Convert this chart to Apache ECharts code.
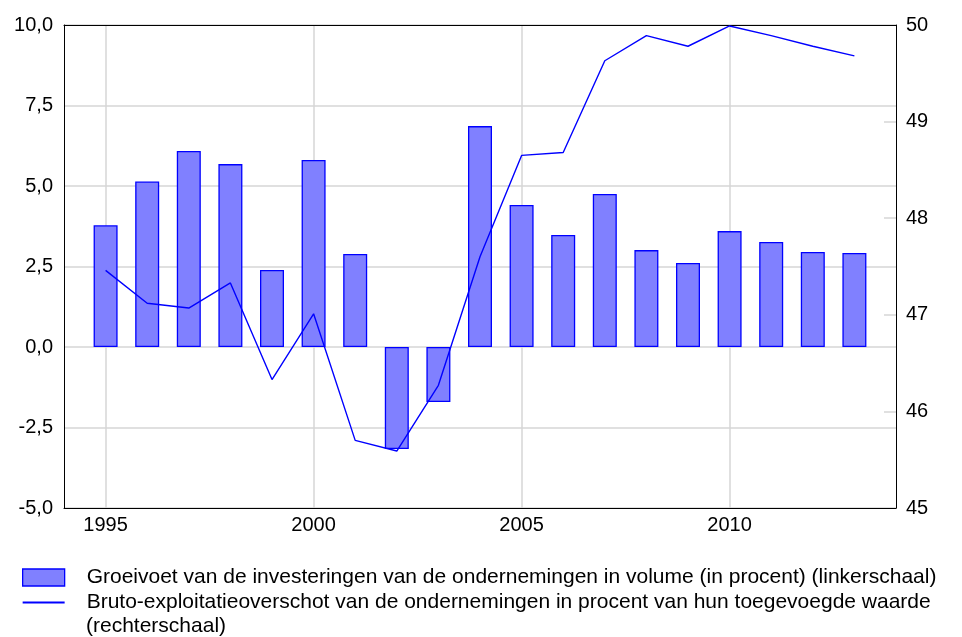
<!DOCTYPE html>
<html>
<head>
<meta charset="utf-8">
<script src="https://cdn.jsdelivr.net/npm/echarts@6/dist/echarts.min.js"></script>
<style>
  html, body { margin: 0; padding: 0; background: #fff; }
  #chart { width: 962px; height: 637px; }
</style>
</head>
<body>
<div id="chart"></div>
<script>
// jaren op de x-as
var years = ['1995', '1996', '1997', '1998', '1999', '2000', '2001', '2002', '2003', '2004',
  '2005', '2006', '2007', '2008', '2009', '2010', '2011', '2012', '2013']
// groeivoet investeringen (linkerschaal, %)
var investmentGrowth = [3.78, 5.14, 6.09, 5.68, 2.39, 5.81, 2.89, -3.17, -1.71, 6.86,
  4.41, 3.48, 4.75, 3.01, 2.61, 3.60, 3.26, 2.95, 2.92]
// bruto-exploitatieoverschot (rechterschaal, %)
var operatingSurplus = [47.46, 47.12, 47.07, 47.33, 46.33, 47.01, 45.70, 45.59, 46.27, 47.60,
  48.65, 48.68, 49.63, 49.89, 49.78, 49.99, 49.89, 49.78, 49.68]
var leftTicks = ['-5,0', '-2,5', '0,0', '2,5', '5,0', '7,5', '10,0']
var rightInnerTicks = [46, 47, 48, 49]

var barName = 'Groeivoet van de investeringen van de ondernemingen in volume (in procent) (linkerschaal)'
var lineName = 'Bruto-exploitatieoverschot van de ondernemingen in procent van hun toegevoegde waarde'

// een lege jaar aan elke kant, zodat de as van 1994 tot 2014 loopt
var axisYears = ['1994'].concat(years, ['2014'])
var barData = [null].concat(investmentGrowth, [null])
var lineData = [null].concat(operatingSurplus, [null])

var font = 'Liberation Sans'
function showYear (i, v) { return +v % 5 === 0 && +v < 2014 }

var chart = echarts.init(document.getElementById('chart'))
chart.setOption({
  animation: false,
  textStyle: { fontFamily: font, color: '#000' },
  grid: {
    left: 64, right: 66, top: 25, bottom: 129
  },
  legend: {
    orient: 'vertical',
    left: 22,
    top: 565,
    padding: 0,
    itemWidth: 42,
    itemHeight: 17,
    itemGap: 0,
    textStyle: { fontFamily: font, fontSize: 21, lineHeight: 25, color: '#000', padding: [0, 0, 0, 17] },
    data: [
      { name: barName, icon: 'rect', itemStyle: { color: '#8080ff', borderColor: '#0000ff', borderWidth: 1.3 } },
      { name: lineName, icon: 'path://M0,0 L42,0 L42,2 L0,2 Z', itemStyle: { color: '#0000ff', borderWidth: 0 } }
    ]
  },
  graphic: [{
    type: 'text',
    left: 86,
    top: 616,
    style: { text: '(rechterschaal)', fontFamily: font, fontSize: 21, fill: '#000' }
  }],
  xAxis: [{
    type: 'category',
    data: axisYears,
    boundaryGap: false,
    axisLine: { onZero: false, lineStyle: { color: '#000', width: 1 } },
    axisTick: { show: false },
    axisLabel: { fontSize: 20, color: '#000', margin: 7, interval: showYear },
    splitLine: {
      show: true,
      interval: showYear,
      lineStyle: { color: '#d6d6d6', width: 1.5 }
    }
  }, {
    // alleen de bovenrand van het kader
    type: 'category',
    position: 'top',
    data: axisYears,
    boundaryGap: false,
    axisLine: { onZero: false, lineStyle: { color: '#000', width: 1 } },
    axisTick: { show: false },
    axisLabel: { show: false },
    splitLine: { show: false }
  }],
  yAxis: [{
    type: 'value',
    min: -5, max: 10, interval: 2.5,
    axisLine: { show: true, lineStyle: { color: '#000', width: 1 } },
    axisTick: { show: false },
    axisLabel: {
      fontSize: 20, color: '#000', margin: 11, padding: [0, 0, 14, 0],
      formatter: function (v) { return leftTicks[Math.round((v + 5) / 2.5)] }
    },
    splitLine: { lineStyle: { color: '#d6d6d6', width: 1.5 } }
  }, {
    type: 'value',
    min: 45, max: 50, interval: 1,
    axisLine: { show: true, lineStyle: { color: '#000', width: 1 } },
    axisTick: {
      show: true, inside: true, length: 12, customValues: rightInnerTicks,
      lineStyle: { color: '#d6d6d6', width: 1.5 }
    },
    axisLabel: { fontSize: 20, color: '#000', margin: 10, padding: [0, 0, 14, 0] },
    splitLine: { show: false }
  }],
  series: [{
    name: barName,
    type: 'bar',
    yAxisIndex: 0,
    barWidth: 24,
    data: barData,
    itemStyle: { color: '#8080ff', borderColor: '#0000ff', borderWidth: 1.3 }
  }, {
    name: lineName,
    type: 'line',
    yAxisIndex: 1,
    data: lineData,
    showSymbol: false,
    symbol: 'none',
    lineStyle: { color: '#0000ff', width: 1.4 },
    itemStyle: { color: '#0000ff' },
    z: 3
  }]
})
</script>
</body>
</html>
